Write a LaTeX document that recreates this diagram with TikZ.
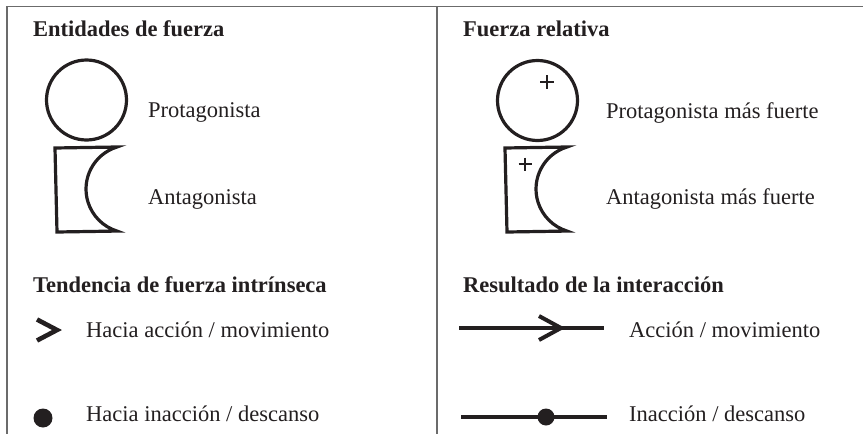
\documentclass[tikz,border=0pt]{standalone}
\usepackage{fontspec}
\setmainfont{Liberation Serif}
\definecolor{ink}{HTML}{231F20}
\definecolor{framegray}{gray}{0.42}
\tikzset{
  lbl/.style={anchor=base west, inner sep=0pt, text=ink, font=\fontsize{22.5}{27}\selectfont},
  hdr/.style={lbl, font=\fontsize{22.5}{27}\selectfont\bfseries},
  ent/.style={draw=ink, line width=3.2pt},
  pluss/.style={draw=ink, line width=2.6pt},
  thick line/.style={draw=ink, line width=4pt},
  chev/.style={draw=ink, line width=4pt, line join=miter},
  bigchev/.style={draw=ink, line width=4.6pt, line join=miter},
  dotnode/.style={circle, fill=ink, inner sep=0pt},
  framel/.style={draw=framegray, line width=1.5pt}
}
\begin{document}
\begin{tikzpicture}[x=1pt, y=-1pt]
\useasboundingbox (0,0) rectangle (863,434);
% frame
\coordinate (ftl) at (7,6.5);
\coordinate (ftr) at (863,6.5);
\coordinate (fbl) at (7,434);
\coordinate (dt) at (437,6.5);
\coordinate (db) at (437,434);
\draw[framel] (fbl) -- (ftl) -- (ftr);
\draw[framel] (dt) -- (db);

% headers
\node[hdr] (h1) at (33,36) {Entidades de fuerza};
\node[hdr] (h2) at (463,36) {Fuerza relativa};
\node[hdr] (h3) at (33,292) {Tendencia de fuerza intrínseca};
\node[hdr] (h4) at (463,292) {Resultado de la interacción};

% left top: entities
\node[ent, circle, minimum size=80pt, inner sep=0pt] (prot) at (86.5,100) {};
\draw[ent] (55,148) -- (117,147) arc[start angle=107.2, end angle=252.8, radius=44pt] -- (57,232) -- cycle;
\coordinate (ant) at (86,190);
\node[lbl] (tprot) at (148,117) {Protagonista};
\node[lbl] (tant) at (148,204) {Antagonista};

% right top: relative strength
\node[ent, circle, minimum size=80pt, inner sep=0pt] (prot2) at (537.5,100.5) {};
\draw[pluss] (540,82) -- (554,82) (547,75) -- (547,89);
\draw[ent] (505,148) -- (567,147) arc[start angle=107.2, end angle=252.8, radius=44pt] -- (507,232) -- cycle;
\draw[pluss] (518.5,164) -- (531.5,164) (525,157.5) -- (525,170.5);
\coordinate (ant2) at (536,190);
\node[lbl] (tprot2) at (606,118) {Protagonista más fuerte};
\node[lbl] (tant2) at (606,204) {Antagonista más fuerte};

% left bottom: intrinsic tendency
\draw[bigchev] (37,319.5) -- (57,330) -- (37,340.5);
\node[dotnode, minimum size=19pt] (rest) at (43,418) {};
\node[lbl] (tmove) at (86,337) {Hacia acción / movimiento};
\node[lbl] (trest) at (86,421) {Hacia inacción / descanso};

% right bottom: result
\coordinate (a1) at (459,328);
\coordinate (a2) at (604,328);
\draw[thick line] (a1) -- (a2);
\draw[chev] (539,316) -- (561,328) -- (539,340);
\coordinate (b1) at (461,417);
\coordinate (b2) at (607,417);
\draw[thick line] (b1) -- (b2);
\node[dotnode, minimum size=17pt] (bdot) at (546,417) {};
\node[lbl] (tact) at (629,337) {Acción / movimiento};
\node[lbl] (tinact) at (629,421) {Inacción / descanso};
\end{tikzpicture}
\end{document}
